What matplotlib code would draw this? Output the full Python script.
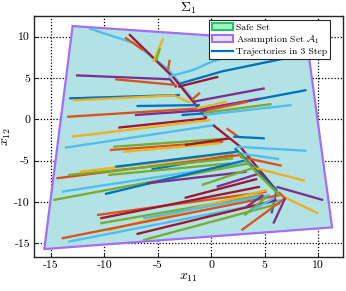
import matplotlib
matplotlib.use("Agg")
import matplotlib.pyplot as plt
from matplotlib.patches import Polygon, Patch
from matplotlib.lines import Line2D

plt.rcParams['font.family'] = ['cmr10', 'DejaVu Serif']
plt.rcParams['mathtext.fontset'] = 'cm'
plt.rcParams['axes.unicode_minus'] = False

# Assumption set polygon vertices
set_x = [-12.98, 8.95, 11.3, -15.63]
set_y = [11.28, 9.35, -13.06, -15.68]

palette = ['#0072BD', '#D95319', '#EDB120', '#7E2F8E', '#77AC30', '#4DBEEE', '#A2142F']

# Trajectories: colour index, x points, y points
traj_color = [5, 6, 1, 2, 4, 1, 5, 0, 6, 3, 1, 0, 2, 3, 0, 3, 4, 5, 1, 0, 1, 3, 6, 2, 5, 2, 1,
              6, 1, 0, 4, 1, 2, 6, 5, 5, 1, 0, 0, 1, 4, 2, 4, 0, 5, 4, 0, 3, 4, 2, 3, 2,
              1, 6, 4, 2, 5, 1, 5, 6, 4, 3, 1, 3, 3, 4, 4, 5, 0, 6]
traj_x = [
    [-11.45, -7.24, -4.0, -1.6], [-7.7, -3.5, -0.44], [-8.08, -6.37], [-4.5, -5.43], [-4.8, -5.2],
    [-3.9, -4.05], [-4.03, -1.7, 0.03, 2.5], [-3.0, 1.0, 8.5], [-3.1, 0.65], [-12.67, -3.87, -3.25],
    [-9.0, -3.25], [-13.3, -2.94], [-12.9, -3.5, -2.0], [5.0, -1.7], [8.9, -1.07],
    [4.55, -1.4], [5.64, -1.07], [7.5, -0.75], [3.4, -1.07], [-7.0, -1.07],
    [-13.5, -1.07], [-7.15, -0.44], [-8.7, -0.44], [-13.07, -0.13], [-13.7, 0.34],
    [1.43, -1.37], [-1.07, -1.84],
    [0.17, 2.7, 6.1], [2.52, 1.43], [5.0, 2.05], [-9.18, 1.74], [-9.5, 1.11], [-8.24, 0.8],
    [-2.47, 1.74], [8.9, 2.37], [6.35, 2.52], [6.58, 2.68], [-5.6, 2.05], [2.2, 4.5, 6.1, 5.64],
    [-14.5, 2.68], [-13.4, 2.05], [-12.3, 2.05], [-9.65, 1.74], [-9.0, 2.37], [-14.0, 3.3],
    [-14.8, 3.6], [-9.95, 3.3], [-6.05, 3.3], [-0.9, 4.24], [8.76, 4.24], [10.47, 6.1],
    [10.0, 6.1], [-10.7, 5.17], [-10.4, 4.55], [-10.4, 4.86], [-9.65, 5.17], [-6.37, 5.48],
    [-14.0, 6.42], [-13.4, 6.58], [-7.0, 6.1], [-6.37, 6.42], [0.5, 4.55], [2.83, 6.9, 6.3],
    [5.8, 6.9], [3.3, 4.86], [2.5, 4.5, 6.4], [3.1, 5.17], [3.8, 5.9], [-2.78, -0.76],
    [-2.5, 4.3],
]
traj_y = [
    [11.0, 9.22, 6.0, 2.2], [10.3, 5.0, 0.12], [9.9, 8.38], [9.8, 6.96], [8.6, 7.0],
    [7.2, 6.0], [5.15, 5.96, 6.96, 7.9], [4.3, 5.8, 7.8], [3.94, 5.15], [5.32, 4.85, 3.87],
    [4.84, 4.15], [2.54, 2.94], [2.3, 2.9, 2.0], [3.75, 2.13], [3.54, 1.12],
    [2.49, 1.12], [1.85, 0.72], [1.73, 0.52], [2.13, 0.92], [1.61, 1.73],
    [0.31, 1.33], [0.52, 1.12], [-1.0, 0.12], [-2.1, -0.08], [-3.43, -0.69],
    [2.13, 1.33], [3.22, 2.33],
    [-0.69, -3.3, -8.6], [-2.1, -1.09], [-2.3, -2.1], [-3.31, -2.3], [-3.71, -2.71], [-3.92, -2.9],
    [-3.1, -2.3], [-3.8, -3.31], [-4.8, -4.1], [-5.6, -4.52], [-6.05, -4.3], [-3.5, -6.5, -8.6, -11.37],
    [-7.13, -4.32], [-6.73, -4.72], [-6.33, -4.1], [-6.73, -5.32], [-5.73, -3.92], [-8.75, -5.32],
    [-9.76, -5.32], [-9.03, -4.92], [-7.74, -6.33], [-7.94, -5.73], [-7.42, -5.92], [-9.76, -8.15],
    [-11.37, -8.95], [-11.57, -8.75], [-11.97, -8.15], [-12.58, -9.15], [-13.39, -8.55], [-11.97, -9.15],
    [-14.39, -9.15], [-14.8, -9.76], [-13.87, -9.76], [-14.6, -10.16], [-8.15, -6.53], [-13.4, -9.55, -8.8],
    [-12.6, -9.55], [-10.57, -9.15], [-4.0, -6.8, -9.2], [-11.6, -9.36], [-11.0, -9.5], [0.52, 0.72],
    [-9.5, -7.2],
]

x_ticks = [-15, -10, -5, 0, 5, 10]
y_ticks = [-15, -10, -5, 0, 5, 10]
legend_labels = ['Safe Set', r'Assumption Set $\mathcal{A}_1$', 'Trajectories in 3 Step']

fig = plt.figure(figsize=(3.46, 2.91), dpi=100)
ax = fig.add_axes([0.099, 0.118, 0.892, 0.828])
ax.set_axisbelow(True)

poly = Polygon(list(zip(set_x, set_y)), closed=True, facecolor='#b3e2e4',
               edgecolor='#a56cf7', linewidth=1.6, zorder=1)
ax.add_patch(poly)

for c, xs, ys in zip(traj_color, traj_x, traj_y):
    ax.plot(xs, ys, color=palette[c], linewidth=1.65, solid_capstyle='butt', zorder=2)

ax.set_xlim(-16.57, 12.31)
ax.set_ylim(-16.6, 12.53)
ax.set_xticks(x_ticks)
ax.set_yticks(y_ticks)
ax.set_xticklabels([str(t) for t in x_ticks])
ax.set_yticklabels([str(t) for t in y_ticks])
ax.grid(True, color='black', linestyle=(0, (1, 1.5)), linewidth=0.9, zorder=0)
ax.tick_params(direction='in', length=3, labelsize=8.5, width=0.6, pad=3)
for s in ax.spines.values():
    s.set_linewidth(1.0)
    s.set_color('#262626')
    s.set_zorder(3)

ax.set_title(r'$\Sigma_1$', fontsize=10, pad=2)
ax.set_xlabel(r'$x_{11}$', fontsize=10, labelpad=1)
ax.set_ylabel(r'$x_{12}$', fontsize=10, labelpad=1)

handles = [Patch(facecolor='#a6f0c6', edgecolor='#22c566', linewidth=1.5),
           Patch(facecolor='#e4e4fa', edgecolor='#a56cf7', linewidth=1.5),
           Line2D([], [], color=palette[0], linewidth=1.6)]
leg = ax.legend(handles, legend_labels, loc='upper right', bbox_to_anchor=(0.958, 0.982),
                fontsize=7, frameon=True, fancybox=False, edgecolor='#262626',
                framealpha=1, borderpad=0.3, labelspacing=0.15, handlelength=2.2,
                handletextpad=0.3, borderaxespad=0)
leg.get_frame().set_linewidth(0.8)
leg.set_zorder(4)

fig.savefig('out.png', dpi=100)
